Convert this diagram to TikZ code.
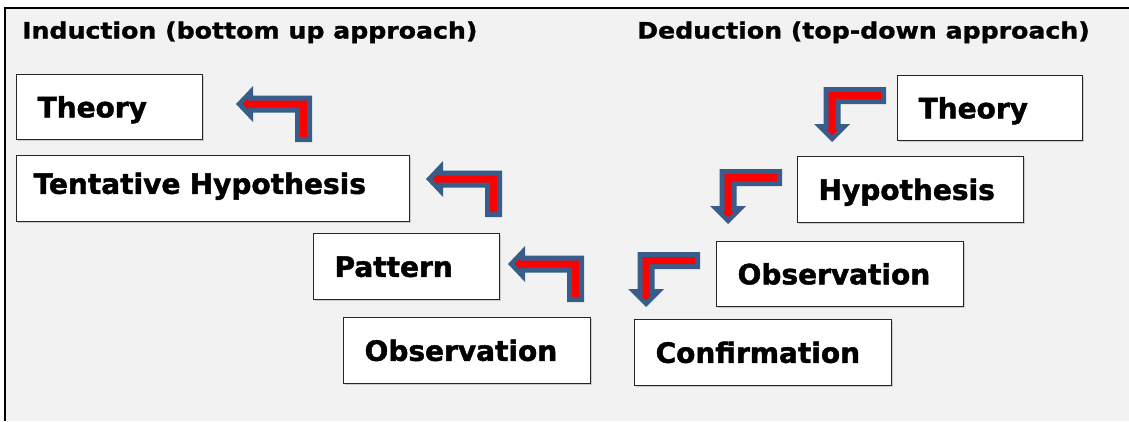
\documentclass[tikz,border=0pt]{standalone}
\usepackage{fontspec}
\setmainfont{DejaVu Sans}
\newfontfamily\heavyfont{DejaVu Sans}[BoldFeatures={FakeBold=1.6}]
\newfontfamily\headfont{DejaVu Sans}[BoldFeatures={FakeBold=1.3,FakeStretch=1.12}]
\usetikzlibrary{shadows}
\definecolor{panelgray}{HTML}{F2F2F2}
\definecolor{arrowblue}{RGB}{56,93,138}
\definecolor{arrowred}{HTML}{FF0000}

\tikzset{
  heading/.style={anchor=base west, inner sep=0pt,
    font=\headfont\bfseries\fontsize{22.5}{24}\selectfont},
  stage/.style n args={2}{draw=black!85, line width=1.2pt, fill=white,
    anchor=north west, align=left, inner ysep=0pt, inner xsep=21pt,
    text height=20.5pt, text depth=0pt,
    text width=#1, minimum height=#2,
    font=\heavyfont\bfseries\fontsize{28}{30}\selectfont,
    drop shadow={shadow xshift=1pt, shadow yshift=-1.5pt, fill=black!35}},
  % bent block arrow pointing left, tail turning down on the right
  leftbend/.pic={
    \fill[arrowblue] (0,0) -- (17,-18) -- (17,-8.5) -- (76,-8.5) -- (76,38)
      -- (59,38) -- (59,8.5) -- (17,8.5) -- (17,18) -- cycle;
    \fill[arrowred] (6.9,0) -- (12,-5.4) -- (12,-3.5) -- (71,-3.5) -- (71,33)
      -- (64,33) -- (64,3.5) -- (12,3.5) -- (12,5.4) -- cycle;
  },
  % bent block arrow pointing down, tail turning right at the top
  downbend/.pic={
    \fill[arrowblue] (0,0) -- (18,-18) -- (8.5,-18) -- (8.5,-38) -- (54,-38)
      -- (54,-55) -- (-8.5,-55) -- (-8.5,-18) -- (-18,-18) -- cycle;
    \fill[arrowred] (0,-6.9) -- (5.4,-12) -- (3.5,-12) -- (3.5,-43) -- (49,-43)
      -- (49,-50) -- (-3.5,-50) -- (-3.5,-12) -- (-5.4,-12) -- cycle;
  }
}

\begin{document}
\begin{tikzpicture}[x=1pt, y=-1pt]
  \useasboundingbox (0,0) rectangle (1129,421);

  % background panel, open at the right and bottom
  \fill[panelgray] (5,8) rectangle (1129,421);
  \draw[line width=2pt] (5,421) -- (5,8) -- (1129,8);

  % headings
  \node[heading] (indhead) at (22,38.5) {Induction (bottom up approach)};
  \node[heading] (dedhead) at (637,38.5) {Deduction (top-down approach)};

  % induction: bottom-up stages
  \node[stage={144pt}{65pt}] (itheory) at (16,74) {Theory};
  \node[stage={359pt}{66pt}, inner xsep=17pt, text depth=10pt] (ihypo) at (16,155) {Tentative Hypothesis};
  \node[stage={144pt}{66pt}] (ipattern) at (313,233) {Pattern};
  \node[stage={205pt}{66pt}] (iobs) at (343,317) {Observation};

  % deduction: top-down stages
  \node[stage={143pt}{65pt}] (dtheory) at (897,75) {Theory};
  \node[stage={184pt}{66pt}] (dhypo) at (797,156) {Hypothesis};
  \node[stage={205pt}{65pt}] (dobs) at (716,241) {Observation};
  \node[stage={215pt}{66pt}] (dconf) at (634,319) {Confirmation};

  % bent arrows between the stages
  \pic at (236,104) {leftbend};
  \pic at (426,179) {leftbend};
  \pic at (508,264) {leftbend};
  \pic at (832,142) {downbend};
  \pic at (728,224) {downbend};
  \pic at (646,307) {downbend};
\end{tikzpicture}
\end{document}
